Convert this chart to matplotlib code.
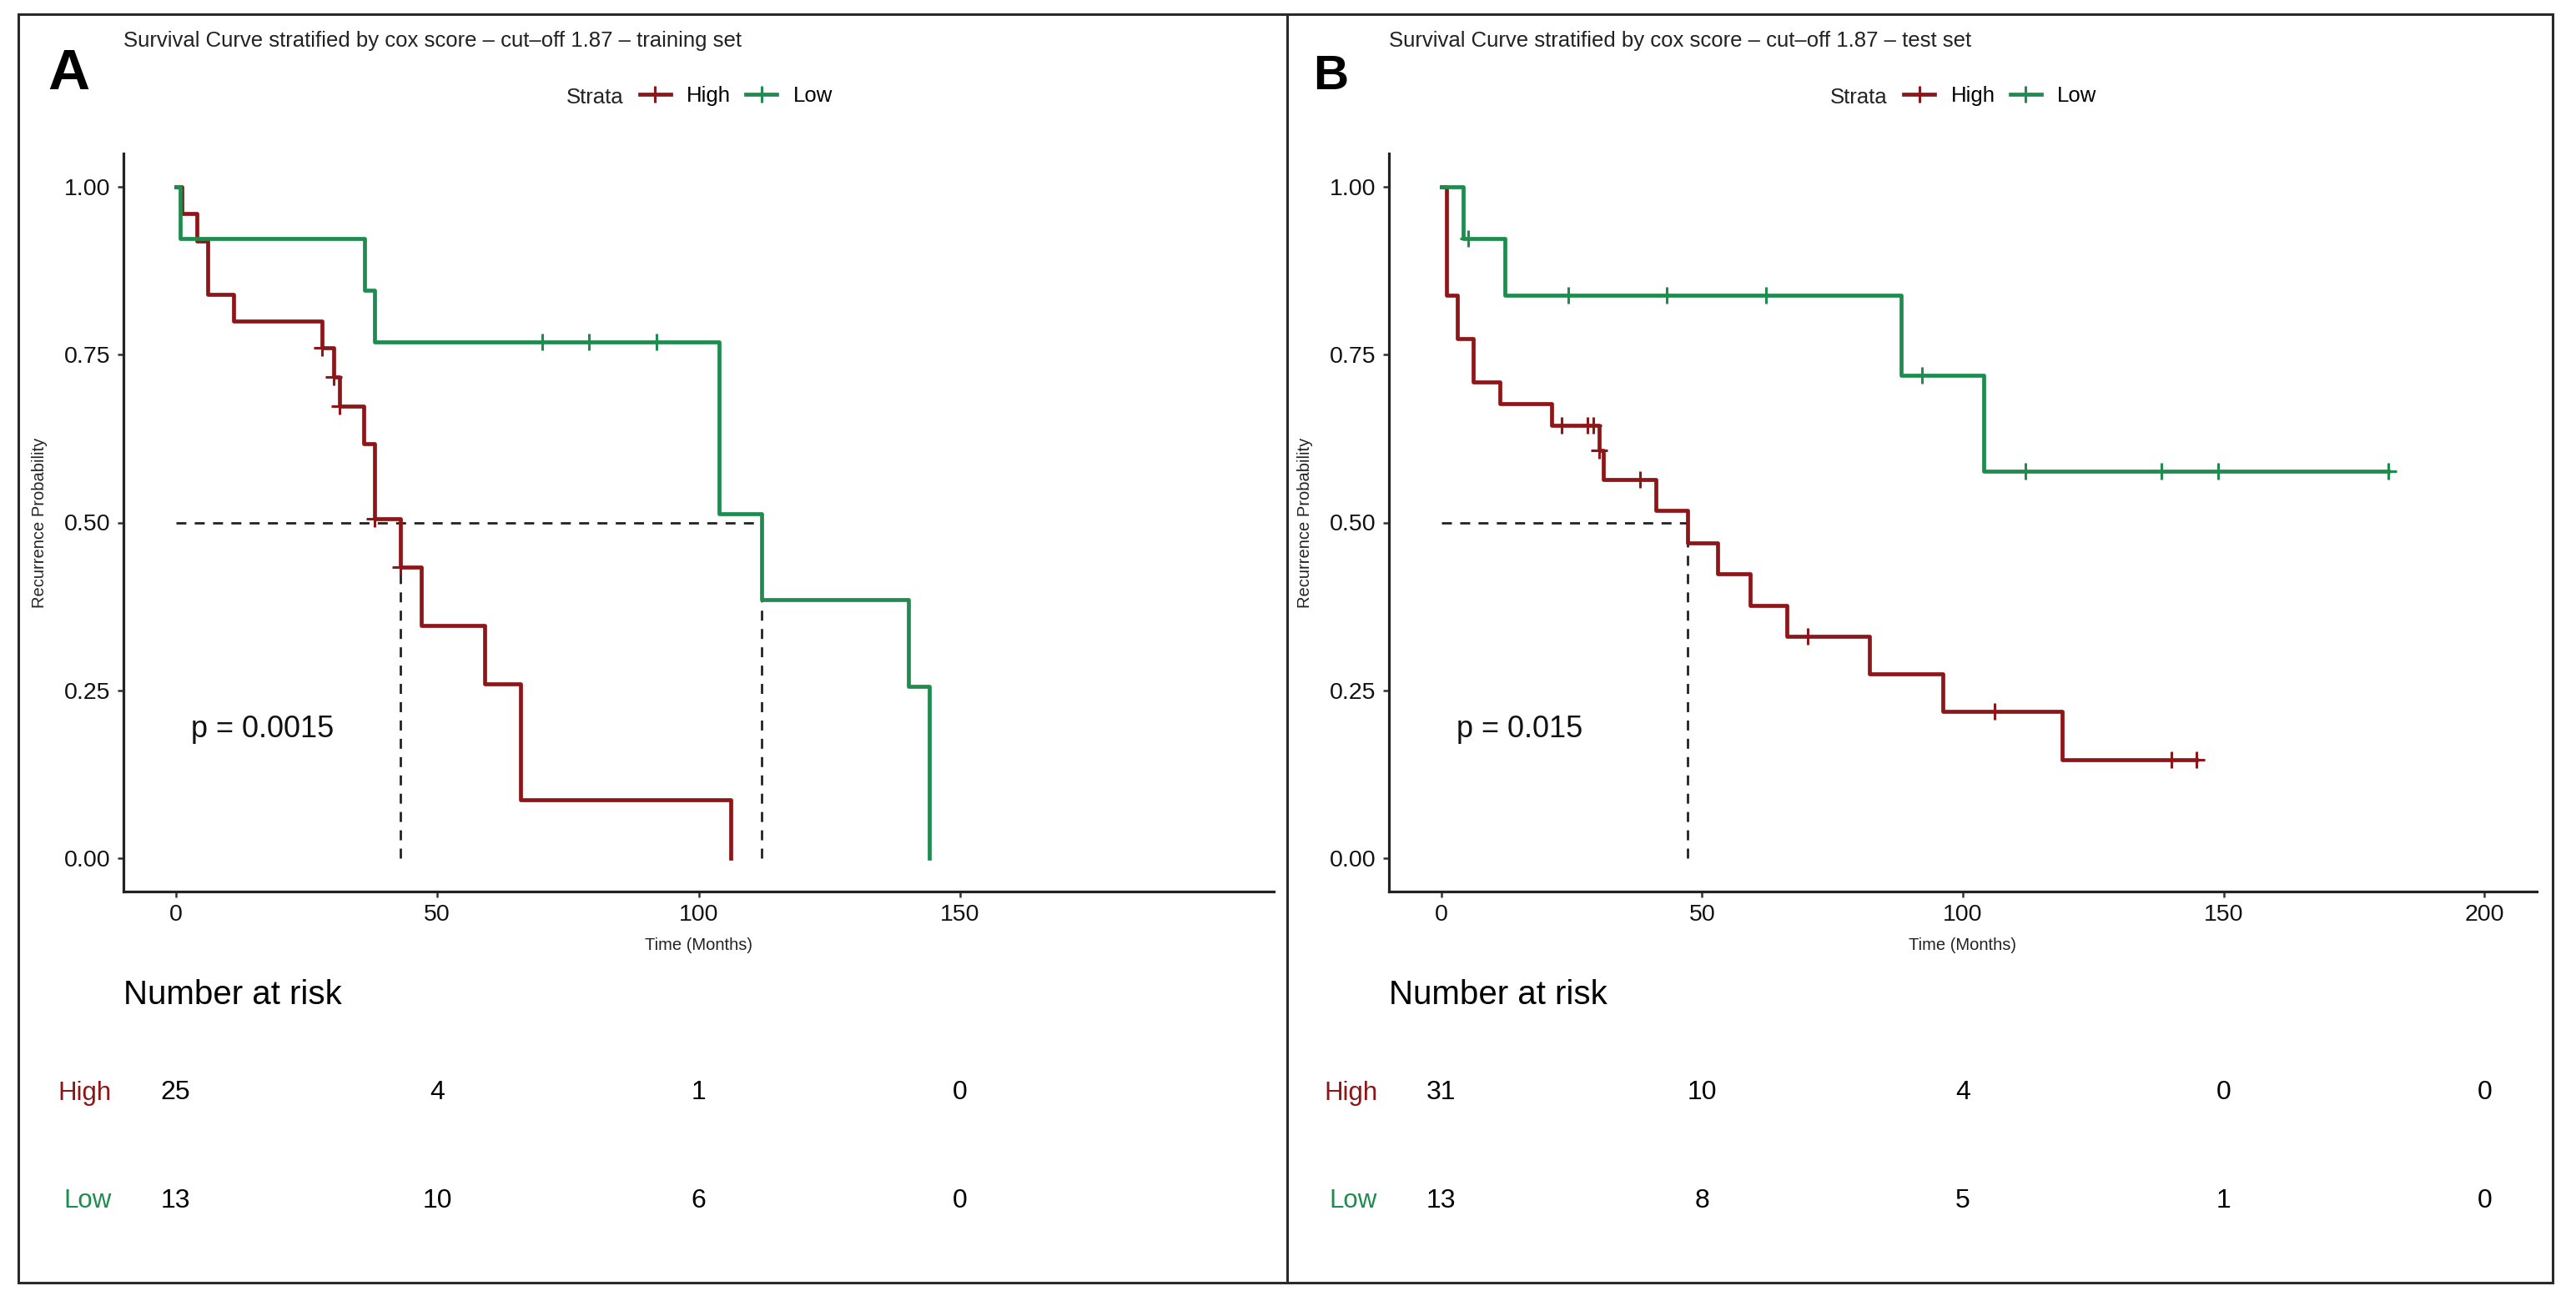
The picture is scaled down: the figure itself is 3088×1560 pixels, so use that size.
import matplotlib
matplotlib.use("Agg")
import matplotlib.pyplot as plt
from matplotlib.lines import Line2D
from matplotlib.patches import Rectangle
from matplotlib.transforms import blended_transform_factory

plt.rcParams['font.family'] = ['Liberation Sans', 'DejaVu Sans']

RED = '#8e1618'
GREEN = '#1e8c4e'

# ---- panel A : training set ----
a_high_t = [0, 1.2, 4.1, 6.1, 11.1, 28.0, 30.2, 31.3, 36.0, 38.0, 43.0, 47.0, 59.0, 66.0, 106.1]
a_high_s = [1.0, 0.96, 0.92, 0.84, 0.80, 0.76, 0.717, 0.673, 0.617, 0.505, 0.433, 0.347, 0.26, 0.087, 0.0]
a_high_cens_t = [28.0, 30.2, 31.3, 38.0, 43.0]
a_high_cens_s = [0.76, 0.717, 0.673, 0.505, 0.433]

a_low_t = [0, 0.9, 36.1, 38.0, 103.9, 112.1, 140.2, 144.1]
a_low_s = [1.0, 0.923, 0.846, 0.769, 0.513, 0.385, 0.256, 0.0]
a_low_cens_t = [70.1, 79.0, 92.0]
a_low_cens_s = [0.769, 0.769, 0.769]

a_medians = [43.0, 112.1]
a_pval = 'p = 0.0015'
a_risk_times = [0, 50, 100, 150]
a_risk_high = [25, 4, 1, 0]
a_risk_low = [13, 10, 6, 0]

# ---- panel B : test set ----
b_high_t = [0, 1.0, 3.1, 6.2, 11.2, 21.2, 30.3, 31.1, 41.2, 47.2, 53.0, 59.2, 66.2, 82.1, 96.1, 119.0, 144.8]
b_high_s = [1.0, 0.839, 0.774, 0.710, 0.677, 0.645, 0.607, 0.564, 0.518, 0.470, 0.423, 0.376, 0.330,
            0.274, 0.219, 0.146, 0.146]
b_high_cens_t = [23.1, 28.1, 29.1, 30.3, 38.1, 70.2, 106.1, 140.0, 144.8]
b_high_cens_s = [0.645, 0.645, 0.645, 0.607, 0.564, 0.330, 0.219, 0.146, 0.146]

b_low_t = [0, 4.3, 12.3, 88.1, 104.0, 181.5]
b_low_s = [1.0, 0.923, 0.839, 0.719, 0.576, 0.576]
b_low_cens_t = [5.2, 24.3, 43.2, 62.3, 92.1, 112.0, 138.0, 148.9, 181.5]
b_low_cens_s = [0.923, 0.839, 0.839, 0.839, 0.719, 0.576, 0.576, 0.576, 0.576]

b_medians = [47.2]
b_pval = 'p = 0.015'
b_risk_times = [0, 50, 100, 150, 200]
b_risk_high = [31, 10, 4, 0, 0]
b_risk_low = [13, 8, 5, 1, 0]

W, H = 3088, 1560
fig = plt.figure(figsize=(W / 100, H / 100), dpi=100)


def fx(px):
    return px / W


def fy(py):
    return 1 - py / H


def panel(left_px, right_px, letter, letter_size, title, high, low, medians, pval,
          risk_times, risk_high, risk_low):
    top_px, bot_px = 184, 1069
    ax = fig.add_axes([fx(left_px), fy(bot_px), fx(right_px - left_px), (bot_px - top_px) / H])
    ax.set_xlim(-10, 210)
    ax.set_ylim(-0.05, 1.05)

    (ht, hs, hct, hcs), (lt, ls, lct, lcs) = high, low
    ax.step(ht, hs, where='post', color=RED, lw=3.4, zorder=3)
    ax.plot(hct, hcs, ls='none', marker='+', ms=15, mew=2.2, color=RED, zorder=3)
    ax.step(lt, ls, where='post', color=GREEN, lw=3.4, zorder=4)
    ax.plot(lct, lcs, ls='none', marker='+', ms=15, mew=2.2, color=GREEN, zorder=4)

    dash = (0, (4.3, 3.6))
    ax.plot([0, max(medians)], [0.5, 0.5], color='#222222', lw=2, ls=dash, zorder=2)
    for m in medians:
        ax.plot([m, m], [0, 0.5], color='#222222', lw=2, ls=dash, zorder=2)

    ax.text(3, 0.18, pval, fontsize=26, va='baseline', ha='left', color='#111111')

    ax.set_xticks(risk_times)
    ax.set_yticks([0, 0.25, 0.5, 0.75, 1.0])
    ax.set_yticklabels(['0.00', '0.25', '0.50', '0.75', '1.00'])
    ax.tick_params(labelsize=20.5, length=5, width=1.8, color='#333333', labelcolor='#111111', pad=6)
    for s in ['top', 'right']:
        ax.spines[s].set_visible(False)
    for s in ['left', 'bottom']:
        ax.spines[s].set_linewidth(2.3)
        ax.spines[s].set_color('#222222')

    bt = blended_transform_factory(ax.transAxes, fig.transFigure)
    ax.text(0.5, fy(1139), 'Time (Months)', transform=bt, ha='center', va='baseline',
            fontsize=14.5, color='#222222')
    fig.text(fx(left_px - 100), fy((top_px + bot_px) / 2), 'Recurrence Probability', rotation=90,
             ha='center', va='center', fontsize=14.5, color='#222222')

    # title and panel letter
    fig.text(fx(left_px), fy(56), title, fontsize=18.5, ha='left', va='baseline', color='#222222')
    fig.text(fx(left_px - 91), fy(107), letter, fontsize=letter_size, fontweight='bold',
             ha='left', va='baseline', color='black')

    # legend
    cx = (left_px + right_px) / 2
    fig.text(fx(cx - 159), fy(124), 'Strata', fontsize=18.5, ha='left', va='baseline', color='#222222')
    handles = [Line2D([], [], color=RED, lw=3.4, marker='+', ms=15, mew=2.2),
               Line2D([], [], color=GREEN, lw=3.4, marker='+', ms=15, mew=2.2)]
    fig.legend(handles, ['High', 'Low'], loc='center left', bbox_to_anchor=(fx(cx - 71), fy(115)),
               ncol=2, frameon=False, fontsize=18.5, handlelength=1.45, handletextpad=0.75,
               columnspacing=0.7, borderpad=0, borderaxespad=0)

    # number at risk table
    tx = blended_transform_factory(ax.transData, fig.transFigure)
    fig.text(fx(left_px), fy(1204), 'Number at risk', fontsize=29, ha='left', va='baseline', color='black')
    for row_y, name, col, vals in [(1318.5, 'High', RED, risk_high), (1447.5, 'Low', GREEN, risk_low)]:
        fig.text(fx(left_px - 14), fy(row_y), name, fontsize=22.5, ha='right', va='baseline', color=col)
        for t, v in zip(risk_times, vals):
            ax.text(t, fy(row_y), str(v), transform=tx, fontsize=23, ha='center', va='baseline',
                    color='black')
    return ax


panel(148, 1527, 'A', 50,
      'Survival Curve stratified by cox score \u2013 cut\u2013off 1.87 \u2013 training set',
      (a_high_t, a_high_s, a_high_cens_t, a_high_cens_s),
      (a_low_t, a_low_s, a_low_cens_t, a_low_cens_s),
      a_medians, a_pval, a_risk_times, a_risk_high, a_risk_low)

panel(1665, 3041, 'B', 42,
      'Survival Curve stratified by cox score \u2013 cut\u2013off 1.87 \u2013 test set',
      (b_high_t, b_high_s, b_high_cens_t, b_high_cens_s),
      (b_low_t, b_low_s, b_low_cens_t, b_low_cens_s),
      b_medians, b_pval, b_risk_times, b_risk_high, b_risk_low)

# frames around the two panels
for x0, x1 in [(22, 1543), (1543, 3060)]:
    fig.add_artist(Rectangle((fx(x0), fy(1538)), fx(x1 - x0), (1538 - 17) / H, transform=fig.transFigure,
                             fill=False, lw=2.2, edgecolor='#2a2a2a'))

fig.savefig('out.png', dpi=100, facecolor='white')
